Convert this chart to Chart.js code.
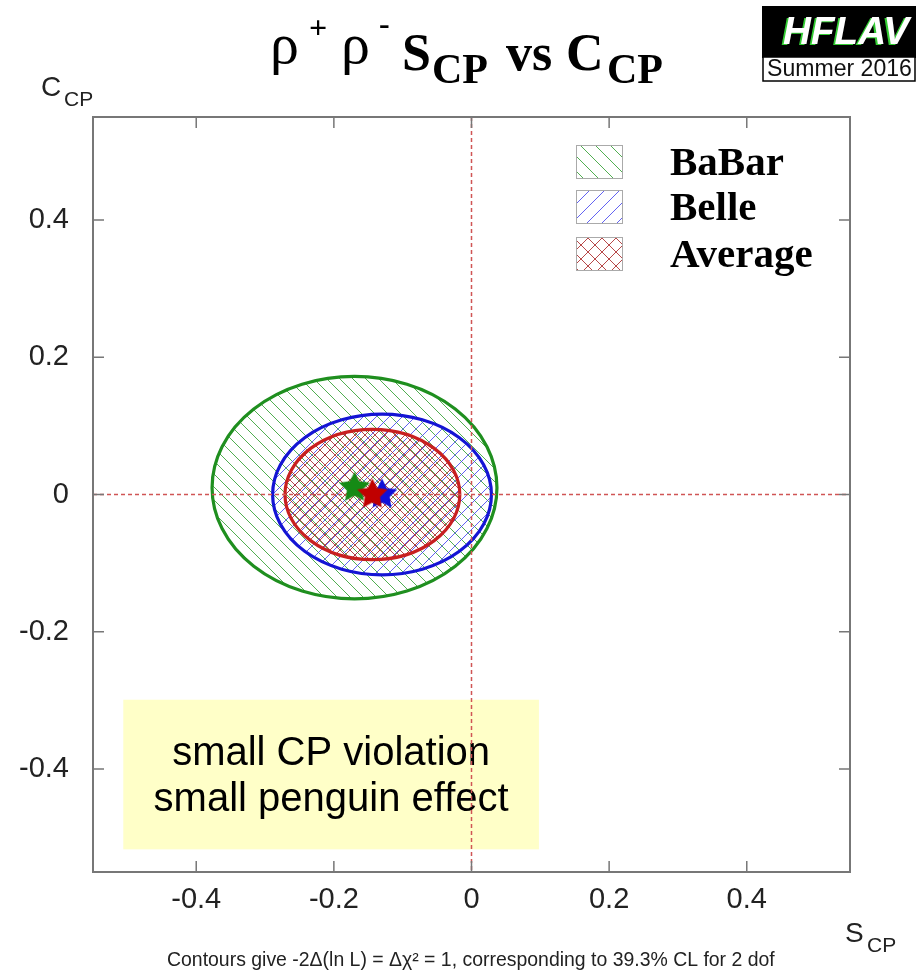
<!DOCTYPE html>
<html>
<head>
<meta charset="utf-8">
<script src="https://cdn.jsdelivr.net/npm/chart.js@4/dist/chart.umd.min.js"></script>
<style>
  body { margin: 0; background: #fff; }
</style>
</head>
<body>
<canvas id="myChart" width="924" height="973"></canvas>
<script>
// 축 눈금
const sTicks = [-0.4, -0.2, 0, 0.2, 0.4];
const cTicks = [-0.4, -0.2, 0, 0.2, 0.4];

// 실험별 측정값 (S_CP, C_CP, 오차)
const expNames = ["BaBar", "Belle", "Average"];
const sValues = [-0.17, -0.13, -0.144];
const cValues = [0.01, 0.0, 0.0];
const sErrors = [0.207, 0.159, 0.127];
const cErrors = [0.162, 0.117, 0.095];

// 노란 상자 영역
const boxS = [-0.506, 0.098];
const boxC = [-0.299, -0.517];
const boxLines = ["small CP violation", "small penguin effect"];

const lineColors = ["#1f8f1f", "#1414d4", "#c82020"];
const hatchColors = ["rgba(50,160,50,0.85)", "rgba(70,70,240,0.85)", "rgba(170,40,40,0.85)"];
const starColors = ["#158a15", "#1010d8", "#c00000"];

function makeHatch(color, s, dirs, lw) {
  const c = document.createElement("canvas");
  c.width = s;
  c.height = s;
  const g = c.getContext("2d");
  g.strokeStyle = color;
  g.lineWidth = lw;
  dirs.forEach((d) => {
    for (let k = -s; k <= s; k += s) {
      g.beginPath();
      if (d === "\\") {
        g.moveTo(k, 0);
        g.lineTo(k + s, s);
      } else {
        g.moveTo(k, s);
        g.lineTo(k + s, 0);
      }
      g.stroke();
    }
  });
  return c;
}

function makeStar(color, r) {
  const c = document.createElement("canvas");
  const size = Math.ceil(2 * r + 4);
  c.width = size;
  c.height = size;
  const g = c.getContext("2d");
  g.translate(size / 2, size / 2);
  g.beginPath();
  for (let k = 0; k < 10; k++) {
    const rr = k % 2 ? r * 0.5 : r;
    const a = -Math.PI / 2 + (k * Math.PI) / 5;
    g.lineTo(rr * Math.cos(a), rr * Math.sin(a));
  }
  g.closePath();
  g.fillStyle = color;
  g.fill();
  return c;
}

const hatchDirs = [["\\"], ["/"], ["\\", "/"]];
const ctx0 = document.getElementById("myChart").getContext("2d");
const plotHatch = hatchDirs.map((d, i) => ctx0.createPattern(makeHatch(hatchColors[i], i === 2 ? 10 : 13, d, 1), "repeat"));
const legendHatch = hatchDirs.map((d, i) => ctx0.createPattern(makeHatch(hatchColors[i], i === 2 ? 14 : 15, d, 1), "repeat"));

function fitText(ctx, text, x, y, width, style, family) {
  ctx.font = style + " 20px " + family;
  const size = (20 * width) / ctx.measureText(text).width;
  ctx.font = style + " " + size.toFixed(2) + "px " + family;
  ctx.fillText(text, x, y);
}

// 타원, 상자, 점선
const backgroundPlugin = {
  id: "background",
  beforeDatasetsDraw(chart) {
    const ctx = chart.ctx;
    const xs = chart.scales.x;
    const ys = chart.scales.y;
    const area = chart.chartArea;
    ctx.save();

    // 노란 상자
    const bx1 = xs.getPixelForValue(boxS[0]);
    const bx2 = xs.getPixelForValue(boxS[1]);
    const by1 = ys.getPixelForValue(boxC[0]);
    const by2 = ys.getPixelForValue(boxC[1]);
    ctx.fillStyle = "#ffffc8";
    ctx.fillRect(bx1, by1, bx2 - bx1, by2 - by1);
    ctx.fillStyle = "#000";
    ctx.font = "40px 'Liberation Sans'";
    ctx.textAlign = "center";
    ctx.textBaseline = "alphabetic";
    ctx.fillText(boxLines[0], (bx1 + bx2) / 2, 765);
    ctx.fillText(boxLines[1], (bx1 + bx2) / 2, 811);

    // 타원
    for (let i = 0; i < expNames.length; i++) {
      const cx = xs.getPixelForValue(sValues[i]);
      const cy = ys.getPixelForValue(cValues[i]);
      const rx = Math.abs(xs.getPixelForValue(sValues[i] + sErrors[i]) - cx);
      const ry = Math.abs(ys.getPixelForValue(cValues[i] + cErrors[i]) - cy);
      ctx.beginPath();
      ctx.ellipse(cx, cy, rx, ry, 0, 0, Math.PI * 2);
      ctx.fillStyle = plotHatch[i];
      ctx.fill();
      ctx.lineWidth = 3.2;
      ctx.strokeStyle = lineColors[i];
      ctx.stroke();
    }

    // 0 점선
    const x0 = xs.getPixelForValue(0);
    const y0 = ys.getPixelForValue(0);
    ctx.setLineDash([4, 3]);
    ctx.lineWidth = 1.5;
    ctx.strokeStyle = "#d05555";
    ctx.beginPath();
    ctx.moveTo(x0, area.top);
    ctx.lineTo(x0, area.bottom);
    ctx.moveTo(area.left, y0);
    ctx.lineTo(area.right, y0);
    ctx.stroke();
    ctx.restore();
  },
  afterDraw(chart) {
    const ctx = chart.ctx;
    const xs = chart.scales.x;
    const ys = chart.scales.y;
    const a = chart.chartArea;
    ctx.save();

    // 테두리와 안쪽 눈금
    ctx.strokeStyle = "#777";
    ctx.lineWidth = 2;
    ctx.strokeRect(a.left, a.top, a.right - a.left, a.bottom - a.top);
    ctx.lineWidth = 1.5;
    ctx.beginPath();
    sTicks.forEach((v) => {
      const p = xs.getPixelForValue(v);
      ctx.moveTo(p, a.bottom);
      ctx.lineTo(p, a.bottom - 11);
      ctx.moveTo(p, a.top);
      ctx.lineTo(p, a.top + 11);
    });
    cTicks.forEach((v) => {
      const p = ys.getPixelForValue(v);
      ctx.moveTo(a.left, p);
      ctx.lineTo(a.left + 11, p);
      ctx.moveTo(a.right, p);
      ctx.lineTo(a.right - 11, p);
    });
    ctx.stroke();

    // 제목
    ctx.fillStyle = "#000";
    ctx.textAlign = "left";
    ctx.textBaseline = "alphabetic";
    ctx.font = "58px 'Liberation Serif'";
    ctx.fillText("ρ", 270, 63);
    ctx.fillText("ρ", 341, 63);
    ctx.font = "bold 32px 'Liberation Serif'";
    ctx.fillText("+", 309, 38);
    ctx.fillText("-", 379, 34);
    ctx.font = "bold 52px 'Liberation Serif'";
    ctx.fillText("S", 402, 70);
    ctx.fillText("vs", 506, 70);
    ctx.fillText("C", 566, 70);
    ctx.font = "bold 42px 'Liberation Serif'";
    ctx.fillText("CP", 432, 83);
    ctx.fillText("CP", 607, 83);

    // 로고
    ctx.fillStyle = "#000";
    ctx.fillRect(762, 6, 154, 52);
    ctx.fillStyle = "#fff";
    ctx.fillRect(763, 57, 152, 24);
    ctx.strokeStyle = "#000";
    ctx.lineWidth = 1.5;
    ctx.strokeRect(763, 57, 152, 24);
    ctx.fillStyle = "#3c3";
    fitText(ctx, "HFLAV", 781, 45, 126, "italic bold", "'Liberation Sans'");
    ctx.fillStyle = "#fff";
    ctx.fillText("HFLAV", 783, 44);
    ctx.fillStyle = "#111";
    fitText(ctx, "Summer 2016", 767, 76, 145, "", "'Liberation Sans'");

    // 범례
    for (let i = 0; i < expNames.length; i++) {
      const ly = [145, 190, 237][i];
      ctx.fillStyle = legendHatch[i];
      ctx.fillRect(576, ly, 47, 33);
      ctx.strokeStyle = "#aaa";
      ctx.lineWidth = 1;
      ctx.strokeRect(576.5, ly + 0.5, 46, 33);
      ctx.fillStyle = "#000";
      ctx.font = "bold 41px 'Liberation Serif'";
      ctx.fillText(expNames[i], 670, ly + 30);
    }

    // 축 제목
    ctx.fillStyle = "#222";
    ctx.font = "28px 'Liberation Sans'";
    ctx.fillText("C", 41, 96);
    ctx.fillText("S", 845, 942);
    ctx.font = "21px 'Liberation Sans'";
    ctx.fillText("CP", 64, 106);
    ctx.fillText("CP", 867, 952);

    // 아래 설명
    fitText(ctx, "Contours give -2Δ(ln L) = Δχ² = 1, corresponding to 39.3% CL for 2 dof", 167, 966, 608, "", "'Liberation Sans'");
    ctx.restore();
  },
};

const starData = sValues.map((s, i) => ({ x: s, y: cValues[i] }));

const configPlot = {
  type: "scatter",
  data: {
    datasets: [
      {
        label: "best fit",
        data: starData,
        pointStyle: starColors.map((c) => makeStar(c, 16)),
      },
    ],
  },
  options: {
    responsive: false,
    animation: false,
    layout: { padding: { left: 0, top: 117, right: 74, bottom: 0 } },
    plugins: {
      legend: { display: false },
      tooltip: { enabled: false },
    },
    scales: {
      x: {
        type: "linear",
        min: -0.55,
        max: 0.55,
        grid: { display: false, drawTicks: false },
        border: { display: false },
        afterBuildTicks: (axis) => {
          axis.ticks = sTicks.map((v) => ({ value: v }));
        },
        afterFit: (axis) => {
          axis.height = 101;
        },
        ticks: {
          padding: 11,
          color: "#222",
          maxRotation: 0,
          autoSkip: false,
          font: { family: "'Liberation Sans'", size: 29 },
          callback: (v) => String(Math.round(v * 10) / 10),
        },
      },
      y: {
        type: "linear",
        min: -0.55,
        max: 0.55,
        grid: { display: false, drawTicks: false },
        border: { display: false },
        afterBuildTicks: (axis) => {
          axis.ticks = cTicks.map((v) => ({ value: v }));
        },
        afterFit: (axis) => {
          axis.width = 93;
        },
        ticks: {
          padding: 24,
          color: "#222",
          autoSkip: false,
          font: { family: "'Liberation Sans'", size: 29 },
          callback: (v) => String(Math.round(v * 10) / 10),
        },
      },
    },
  },
  plugins: [backgroundPlugin],
};

const myPlot = new Chart(document.getElementById("myChart"), configPlot);
</script>
</body>
</html>
